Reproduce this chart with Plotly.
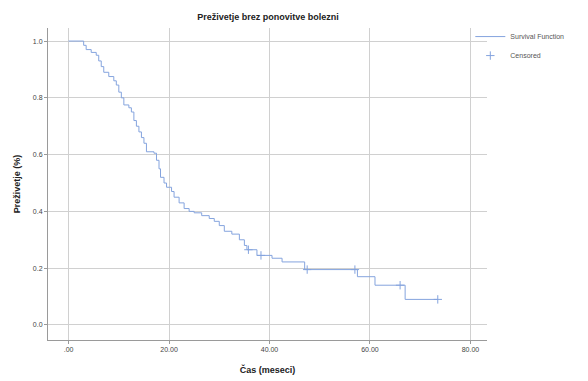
import plotly.graph_objects as go

# Kaplan-Meier step data (months, survival proportion)
event_times = [0, 3.0, 3.5, 4.5, 5.5, 6.0, 6.5, 7.0, 8.0, 9.0, 9.5, 10.0, 10.5, 11.0, 12.0,
               12.5, 13.0, 13.5, 14.0, 14.5, 15.0, 15.5, 17.0, 17.5, 18.0, 18.3, 19.0, 19.5,
               20.5, 21.0, 22.0, 23.0, 24.0, 25.0, 26.5, 28.0, 29.0, 30.0, 31.0, 32.5, 34.0,
               35.0, 35.5, 37.5, 40.5, 42.5, 47.0, 57.5, 61.0, 67.0, 73.5]
survival = [1.0, 0.985, 0.97, 0.96, 0.95, 0.93, 0.91, 0.89, 0.875, 0.86, 0.845, 0.82, 0.80,
            0.775, 0.765, 0.75, 0.72, 0.70, 0.68, 0.66, 0.64, 0.61, 0.605, 0.58, 0.55, 0.52,
            0.50, 0.485, 0.47, 0.45, 0.43, 0.41, 0.40, 0.395, 0.385, 0.375, 0.365, 0.35,
            0.33, 0.32, 0.30, 0.28, 0.265, 0.245, 0.235, 0.222, 0.195, 0.17, 0.14, 0.09, 0.09]

censor_times = [35.8, 38.3, 47.5, 57.0, 66.0, 73.5]
censor_surv = [0.265, 0.245, 0.195, 0.195, 0.14, 0.09]

x_ticks = [0, 20, 40, 60, 80]
x_ticklabels = [".00", "20.00", "40.00", "60.00", "80.00"]
y_ticks = [0.0, 0.2, 0.4, 0.6, 0.8, 1.0]
y_ticklabels = ["0.0", "0.2", "0.4", "0.6", "0.8", "1.0"]

line_color = "#85a4de"

fig = go.Figure()
fig.add_trace(go.Scatter(
    x=event_times, y=survival, mode="lines", line=dict(shape="hv", color=line_color, width=1),
    name="Survival Function"))
fig.add_trace(go.Scatter(
    x=censor_times, y=censor_surv, mode="markers",
    marker=dict(symbol="cross-thin", size=6, line=dict(color=line_color, width=1), color=line_color),
    name="Censored"))

axis_font = dict(family="Arial, Liberation Sans, sans-serif", size=7, color="#444444")
fig.update_layout(
    width=588, height=381,
    margin=dict(l=48, r=101, t=28, b=41, autoexpand=False),
    paper_bgcolor="white", plot_bgcolor="white",
    font=dict(family="Arial, Liberation Sans, sans-serif", color="#222222"),
    title=dict(text="<b>Preživetje brez ponovitve bolezni</b>", x=268 / 588,
               xanchor="center", y=1 - 17 / 381, yanchor="middle",
               font=dict(size=9, color="#222222")),
    showlegend=True,
    legend=dict(x=0.962, y=1.019, xanchor="left", yanchor="top", font=dict(size=7, color="#555555"),
                bgcolor="rgba(0,0,0,0)", itemwidth=30, tracegroupgap=0),
    xaxis=dict(range=[-4.1, 83.3], tickvals=x_ticks, ticktext=x_ticklabels, tickfont=axis_font,
               showgrid=True, gridcolor="#d0d0d0", gridwidth=1, zeroline=False, automargin=False,
               showline=True, linecolor="#9a9a9a", linewidth=1, ticks="outside", ticklen=3,
               tickcolor="#9a9a9a",
               title=dict(text="<b>Čas (meseci)</b>", font=dict(size=9, color="#222222"), standoff=14)),
    yaxis=dict(range=[-0.053, 1.046], tickvals=y_ticks, ticktext=y_ticklabels, tickfont=axis_font,
               showgrid=True, gridcolor="#d0d0d0", gridwidth=1, zeroline=False, automargin=False,
               showline=True, linecolor="#9a9a9a", linewidth=1, ticks="outside", ticklen=3,
               tickcolor="#9a9a9a",
               title=dict(text="<b>Preživetje (%)</b>", font=dict(size=9, color="#222222"), standoff=10)),
)

fig.write_html("out.html", config={"displayModeBar": False},
               post_script="document.body.style.margin='0';")
